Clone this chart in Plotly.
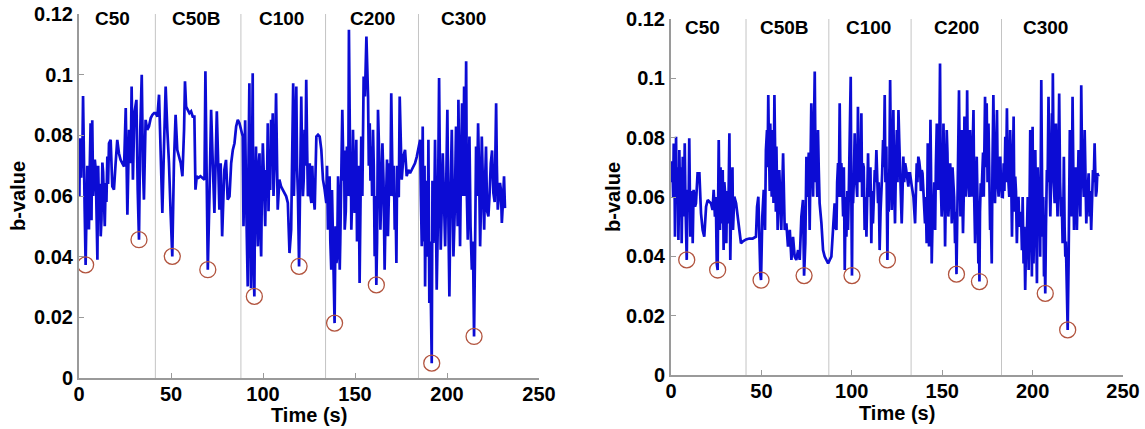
import plotly.graph_objects as go

# ---------------- data ----------------
time_left = [
    0, 0.5, 1.2, 1.8, 2.2, 2.7, 3.6, 4.5, 5.4, 6.3,
    6.8, 7.2, 8.2, 9.1, 10.0, 10.9, 11.8, 12.7, 13.6, 14.5,
    15.4, 16.3, 17.2, 18.1, 19.0, 19.9, 20.8, 21.7, 22.6, 23.5,
    24.5, 25.4, 26.3, 27.2, 28.1, 28.6, 29.3, 30.1, 31.2, 31.9,
    32.6, 33.3, 34.1, 34.8, 35.3, 36.2, 37.1, 38.0, 39.0, 39.9,
    40.8, 41.7, 42.6, 43.5, 44.4, 45.3, 46.2, 47.1, 48.0, 48.9,
    49.8, 50.7, 51.6, 52.5, 53.4, 54.3, 55.3, 56.2, 57.1, 57.6,
    58.2, 59.1, 60.0, 60.9, 61.8, 62.7, 63.3, 64.0, 65.0, 66.0,
    67.0, 68.2, 68.7, 69.4, 70.0, 70.9, 71.8, 72.7, 73.6, 74.9,
    75.6, 76.3, 77.0, 77.8, 78.5, 79.0, 79.9, 80.8, 81.8, 82.7,
    83.6, 84.5, 85.4, 86.3, 87.2, 88.1, 89.0, 89.9, 90.8, 91.7,
    92.6, 93.5, 94.4, 95.3, 96.2, 97.2, 98.1, 99.0, 99.9, 100.8,
    101.7, 102.6, 103.5, 104.4, 105.3, 106.2, 107.1, 108.0, 108.9, 109.8,
    110.7, 111.6, 112.6, 113.5, 114.4, 115.3, 115.8, 116.4, 117.2, 118.1,
    119.0, 119.6, 120.3, 120.8, 121.7, 122.6, 123.5, 124.4, 125.4, 126.3,
    127.2, 128.1, 129.0, 129.9, 130.8, 131.7, 132.6, 133.5, 134.4, 135.3,
    136.2, 137.1, 138.0, 138.9, 139.9, 140.8, 141.7, 142.4, 143.1, 143.8,
    144.4, 145.6, 146.1, 146.7, 147.5, 148.0, 148.9, 149.8, 150.7, 151.6,
    152.5, 153.4, 154.0, 154.7, 155.4, 156.2, 157.1, 158.0, 158.9, 159.8,
    160.7, 161.6, 162.5, 163.8, 164.9, 166.1, 167.0, 167.9, 168.8, 169.7,
    170.7, 171.6, 172.5, 173.4, 174.3, 175.4, 176.3, 177.2, 178.1, 179.0,
    179.9, 180.8, 181.7, 182.6, 183.6, 184.5, 185.4, 186.3, 186.8, 187.5,
    188.1, 189.0, 189.9, 190.4, 191.1, 191.7, 192.6, 193.5, 194.4, 195.7,
    196.6, 197.7, 199.0, 200.2, 201.3, 202.6, 203.5, 204.9, 205.5, 206.2,
    207.1, 208.2, 208.8, 209.3, 210.4, 211.3, 212.2, 213.5, 214.7, 215.8,
    216.9, 218.0, 218.9, 220.2, 221.2, 222.5, 223.8, 225.2, 226.7, 227.6,
    228.8, 229.8, 231.0, 231.5,
]
bvalue_left = [
    0.068, 0.079, 0.066, 0.072, 0.093, 0.062, 0.0373, 0.070, 0.049, 0.084,
    0.052, 0.085, 0.0654, 0.0686, 0.039, 0.0555, 0.0467, 0.071, 0.060, 0.0643,
    0.073, 0.0774, 0.0785, 0.0632, 0.0621, 0.0708, 0.0785, 0.0741, 0.0719, 0.0708,
    0.0697, 0.089, 0.0538, 0.0818, 0.0708, 0.0961, 0.0654, 0.0873, 0.0917, 0.0621,
    0.0456, 0.0818, 0.1000, 0.0686, 0.0588, 0.0851, 0.0818, 0.0829, 0.0857, 0.0868,
    0.0873, 0.0873, 0.0862, 0.0934, 0.0708, 0.0544, 0.0763, 0.0961, 0.0818, 0.0708,
    0.0544, 0.0401, 0.0708, 0.0868, 0.0752, 0.0730, 0.0708, 0.0665, 0.0818, 0.0978,
    0.0895, 0.0884, 0.0873, 0.0879, 0.0862, 0.0862, 0.0621, 0.0665, 0.0660, 0.0665,
    0.0660, 0.0654, 0.1011, 0.0599, 0.0357, 0.0599, 0.0884, 0.0708, 0.0544, 0.0879,
    0.0654, 0.0555, 0.0708, 0.0467, 0.0599, 0.0686, 0.0719, 0.0588, 0.0599, 0.0708,
    0.0752, 0.0774, 0.0829, 0.0851, 0.0840, 0.0818, 0.0796, 0.0708, 0.0599, 0.0302,
    0.0972, 0.0296, 0.1005, 0.0269, 0.0763, 0.0434, 0.0741, 0.0401, 0.0774, 0.0555,
    0.0686, 0.0840, 0.0730, 0.0851, 0.0873, 0.0686, 0.0939, 0.0555, 0.0654, 0.0632,
    0.0621, 0.0610, 0.0599, 0.0577, 0.0412, 0.0489, 0.0730, 0.0972, 0.0686, 0.0961,
    0.0599, 0.0368, 0.0654, 0.0928, 0.0599, 0.0818, 0.0983, 0.0599, 0.0708, 0.0577,
    0.0621, 0.0555, 0.0796, 0.0802, 0.0796, 0.0752, 0.0654, 0.0621, 0.0577, 0.0489,
    0.0665, 0.0357, 0.0489, 0.0181, 0.0379, 0.0665, 0.0357, 0.0599, 0.0884, 0.0650,
    0.0489, 0.0763, 0.0600, 0.1148, 0.0599, 0.0489, 0.0818, 0.0544, 0.0785, 0.0654,
    0.0313, 0.0796, 0.0600, 0.0994, 0.0928, 0.1126, 0.0928, 0.0840, 0.0763, 0.0818,
    0.0401, 0.0307, 0.0884, 0.0489, 0.0774, 0.0357, 0.0599, 0.0467, 0.0708, 0.0939,
    0.0599, 0.0489, 0.0379, 0.0599, 0.0928, 0.0654, 0.0730, 0.0752, 0.0665, 0.0686,
    0.0675, 0.0686, 0.0697, 0.0708, 0.0730, 0.0763, 0.0785, 0.0434, 0.0829, 0.0599,
    0.0302, 0.0544, 0.0785, 0.0247, 0.0300, 0.0049, 0.0445, 0.0785, 0.0291, 0.0989,
    0.0423, 0.0741, 0.0434, 0.0884, 0.0269, 0.0818, 0.0401, 0.0829, 0.0550, 0.0917,
    0.0434, 0.0906, 0.0600, 0.0961, 0.1044, 0.0456, 0.0796, 0.0357, 0.0137, 0.0763,
    0.0840, 0.0434, 0.0796, 0.0489, 0.0763, 0.0533, 0.0708, 0.0610, 0.0906, 0.0555,
    0.0643, 0.0511, 0.0665, 0.0560,
]
# extra short oscillations read from the densely filled stretches (left panel)
time_left_fill = [
    0.2, 0.8, 1.5, 3.1, 4.0, 4.9, 5.8, 7.7, 8.6,
    9.5, 10.4, 11.3, 12.2, 13.1, 14.0, 14.9, 15.8,
    89.4, 90.3, 91.2, 92.1, 93.0, 93.9, 94.8, 95.7, 96.7, 97.6,
    98.5, 99.4, 100.3, 101.2, 102.1, 103.0, 103.9, 104.8, 105.7, 106.6,
    116.8, 117.6, 118.5, 121.2, 122.1, 123.0, 124.0, 124.9, 125.8, 126.8,
    134.8, 135.7, 136.6, 137.5, 138.4, 139.4, 140.3, 141.2, 142.0, 144.1,
    145.0, 146.4, 147.2, 147.8, 148.5, 149.3, 150.2, 151.1, 152.0, 152.9,
    153.7, 157.5, 158.4, 159.3, 160.2, 161.1, 162.0, 163.1, 164.3, 165.5,
    166.5, 167.4, 168.3, 169.2, 170.2, 171.1, 172.0, 172.9, 173.8,
    185.8, 187.2, 187.8, 188.6, 189.5, 190.1, 190.8, 192.1, 193.0, 193.9,
    195.0, 196.2, 197.1, 198.3, 199.6, 200.8, 201.9, 203.0, 204.2, 205.2,
    205.8, 206.6, 207.6, 209.8, 210.8, 211.7, 212.8, 214.1, 215.2, 216.3,
    217.4, 218.4, 219.5, 220.7, 221.8, 223.1, 224.5, 225.9, 227.1, 228.2,
    229.3, 230.4,
]
bvalue_left_fill = [
    0.060, 0.070, 0.078, 0.055, 0.050, 0.060, 0.068, 0.060, 0.072,
    0.050, 0.070, 0.064, 0.052, 0.068, 0.050, 0.058, 0.064,
    0.050, 0.085, 0.045, 0.070, 0.052, 0.060, 0.040, 0.060, 0.055, 0.070,
    0.050, 0.062, 0.070, 0.050, 0.060, 0.055, 0.062, 0.075, 0.060, 0.075,
    0.060, 0.080, 0.070, 0.075, 0.065, 0.070, 0.075, 0.065, 0.060, 0.070,
    0.070, 0.060, 0.045, 0.062, 0.040, 0.050, 0.040, 0.060, 0.045, 0.075,
    0.055, 0.070, 0.080, 0.070, 0.060, 0.070, 0.060, 0.045, 0.070, 0.055,
    0.070, 0.070, 0.065, 0.060, 0.070, 0.060, 0.045, 0.075, 0.060, 0.065,
    0.050, 0.072, 0.055, 0.060, 0.072, 0.070, 0.060, 0.070, 0.060,
    0.060, 0.045, 0.070, 0.065, 0.040, 0.060, 0.045, 0.065, 0.050, 0.060,
    0.050, 0.065, 0.055, 0.060, 0.065, 0.050, 0.060, 0.065, 0.055, 0.070,
    0.050, 0.065, 0.070, 0.060, 0.060, 0.065, 0.050, 0.045, 0.040, 0.060,
    0.070, 0.055, 0.065, 0.065, 0.055, 0.060, 0.075, 0.058, 0.070, 0.060,
    0.062, 0.058,
]

time_right = [
    0, 0.9, 1.5, 2.2, 2.8, 3.3, 4.1, 4.6, 5.2, 5.9,
    6.5, 7.0, 7.6, 8.3, 8.7, 9.2, 10.1, 10.7, 11.4, 12.0,
    12.5, 13.3, 13.8, 14.7, 15.7, 16.6, 17.5, 18.4, 19.4, 20.3,
    21.2, 22.1, 23.0, 23.6, 24.3, 25.3, 25.8, 26.4, 27.1, 27.7,
    28.6, 29.1, 29.9, 30.6, 31.3, 32.3, 32.8, 33.6, 34.3, 35.0,
    36.0, 36.9, 37.8, 38.7, 39.6, 40.6, 41.5, 43.3, 45.2, 47.0,
    47.6, 48.3, 48.9, 49.4, 49.8, 50.5, 51.3, 52.0, 52.5, 53.1,
    53.8, 54.4, 54.9, 55.7, 56.2, 57.2, 57.7, 58.3, 59.0, 59.9,
    61.0, 62.0, 62.9, 63.8, 64.7, 65.7, 66.6, 67.5, 68.4, 69.3,
    70.3, 71.2, 72.1, 73.0, 73.6, 74.3, 74.9, 75.8, 76.7, 77.6,
    78.6, 79.5, 80.4, 81.3, 82.2, 83.2, 84.1, 85.0, 85.9, 86.9,
    87.8, 88.7, 89.6, 90.5, 91.5, 92.4, 93.3, 94.2, 95.2, 96.1,
    97.0, 97.9, 98.8, 99.4, 100.1, 100.7, 101.6, 102.5, 103.4, 104.4,
    105.3, 106.2, 107.1, 108.1, 109.0, 109.9, 110.8, 111.7, 112.7, 113.6,
    114.5, 115.4, 116.4, 117.3, 118.2, 119.1, 119.7, 120.4, 121.2, 122.1,
    123.0, 123.9, 124.9, 125.8, 126.7, 127.6, 128.5, 129.5, 130.4, 131.3,
    132.2, 133.2, 134.1, 135.0, 135.9, 136.8, 137.8, 138.7, 139.6, 140.5,
    141.4, 142.0, 142.7, 143.5, 144.2, 145.1, 146.1, 147.0, 147.9, 148.8,
    149.7, 150.7, 151.6, 152.5, 153.4, 154.4, 155.3, 156.2, 157.1, 157.9,
    158.6, 159.3, 160.1, 160.8, 161.5, 162.3, 163.0, 163.8, 164.5, 165.4,
    166.3, 167.3, 168.2, 169.1, 170.0, 170.6, 171.3, 172.2, 173.0, 173.7,
    174.6, 175.6, 176.5, 177.4, 178.3, 179.2, 180.3, 181.2, 182.1, 183.0,
    184.0, 184.9, 185.8, 186.7, 187.6, 188.6, 189.5, 190.4, 191.3, 192.2,
    193.2, 194.1, 195.0, 195.9, 196.9, 197.8, 198.7, 199.6, 200.0, 200.5,
    201.5, 202.4, 203.3, 204.2, 204.8, 205.5, 206.3, 207.0, 207.9, 208.8,
    209.8, 210.7, 211.2, 212.2, 212.9, 213.8, 214.7, 215.7, 216.6, 217.3,
    218.1, 218.8, 219.4, 219.9, 220.6, 221.4, 222.1, 222.9, 223.6, 224.5,
    225.4, 226.4, 226.9, 227.8, 228.8, 229.7, 230.6, 231.5, 232.4, 233.4,
    234.3, 235.0, 235.8, 236.5,
]
bvalue_right = [
    0.065, 0.0680, 0.0780, 0.0466, 0.0803, 0.0579, 0.0455, 0.0758, 0.0534, 0.0444,
    0.0736, 0.0534, 0.0781, 0.0421, 0.0388, 0.0624, 0.0798, 0.0466, 0.0601, 0.0444,
    0.0624, 0.0567, 0.0579, 0.0680, 0.0680, 0.0545, 0.0489, 0.0466, 0.0567, 0.0590,
    0.0584, 0.0579, 0.0556, 0.0624, 0.0534, 0.0376, 0.0354, 0.0792, 0.0489, 0.0511,
    0.0691, 0.0421, 0.0601, 0.0444, 0.0511, 0.0815, 0.0388, 0.0624, 0.0489, 0.0601,
    0.0579, 0.0534, 0.0489, 0.0444, 0.0450, 0.0455, 0.0457, 0.0460, 0.0460, 0.0466,
    0.0567, 0.0601, 0.0421, 0.0340, 0.0320, 0.0534, 0.0624, 0.0489, 0.0758, 0.0826,
    0.0944, 0.0691, 0.0848, 0.0601, 0.0826, 0.0944, 0.0691, 0.0770, 0.0489, 0.0691,
    0.0489, 0.0747, 0.0489, 0.0511, 0.0433, 0.0489, 0.0388, 0.0466, 0.0399, 0.0388,
    0.0421, 0.0388, 0.0534, 0.0590, 0.0335, 0.0444, 0.0736, 0.0691, 0.0489, 0.0916,
    0.0601, 0.1023, 0.0714, 0.0826, 0.0579, 0.0511, 0.0421, 0.0399, 0.0388, 0.0376,
    0.0388, 0.0399, 0.0489, 0.0579, 0.0489, 0.0714, 0.0916, 0.0714, 0.0534, 0.0354,
    0.0466, 0.0489, 0.0736, 0.1005, 0.0335, 0.0579, 0.0815, 0.0624, 0.0904, 0.0736,
    0.0882, 0.0714, 0.0489, 0.0466, 0.0747, 0.0657, 0.0444, 0.0511, 0.0691, 0.0758,
    0.0579, 0.0421, 0.0601, 0.0792, 0.0944, 0.0770, 0.0388, 0.0550, 0.0994, 0.0556,
    0.0893, 0.0511, 0.0826, 0.0893, 0.0714, 0.0511, 0.0736, 0.0714, 0.0680, 0.0635,
    0.0680, 0.0635, 0.0600, 0.0511, 0.0714, 0.0736, 0.0691, 0.0691, 0.0624, 0.0511,
    0.0444, 0.0781, 0.0433, 0.0860, 0.0376, 0.0534, 0.0489, 0.0848, 0.0624, 0.1050,
    0.0534, 0.0848, 0.0433, 0.0826, 0.0534, 0.0714, 0.0511, 0.0646, 0.0444, 0.0340,
    0.0657, 0.0960, 0.0534, 0.0826, 0.0478, 0.0871, 0.0601, 0.0960, 0.0669, 0.0826,
    0.0601, 0.0893, 0.0444, 0.0736, 0.0376, 0.0315, 0.0646, 0.0736, 0.0601, 0.0938,
    0.0916, 0.0848, 0.0489, 0.0376, 0.0944, 0.0579, 0.0893, 0.0601, 0.0736, 0.0601,
    0.0714, 0.0803, 0.0899, 0.0601, 0.0826, 0.0466, 0.0871, 0.0669, 0.0444, 0.0601,
    0.0511, 0.0421, 0.0376, 0.0287, 0.0489, 0.0354, 0.0826, 0.0332, 0.0837, 0.0376,
    0.0758, 0.0309, 0.0601, 0.0399, 0.0994, 0.0466, 0.0332, 0.0275, 0.0691, 0.0938,
    0.0534, 0.0882, 0.1017, 0.0579, 0.0848, 0.0534, 0.0949, 0.0534, 0.0444, 0.0736,
    0.0399, 0.0264, 0.0152, 0.0376, 0.0826, 0.0534, 0.0938, 0.0489, 0.0669, 0.0489,
    0.0758, 0.0534, 0.0977, 0.0624, 0.0826, 0.0511, 0.0646, 0.0534, 0.0489, 0.0691,
    0.0781, 0.0601, 0.0680, 0.0669,
]
# extra short oscillations read from the densely filled stretches (right panel)
time_right_fill = [
    0.4, 1.2, 1.9, 2.5, 3.0, 3.7, 4.4, 4.9, 5.6, 6.2,
    6.8, 7.3, 8.0, 9.7, 10.4, 11.1, 11.7, 12.3, 12.9, 24.8,
    26.1, 26.8, 27.4, 28.2, 28.9, 29.5, 30.3, 31.0, 31.8, 33.2,
    34.0, 53.4, 54.1, 54.6, 55.3, 56.0, 56.7, 57.5, 58.0, 58.7,
    59.4, 75.3, 76.2, 77.1, 78.1, 79.0, 80.0, 80.9, 81.7,
    90.9, 91.9, 92.8, 93.8, 94.7, 95.6, 96.6, 97.5, 98.3, 99.8,
    100.4, 101.1, 102.0, 103.0, 103.9, 104.8, 105.7, 106.6, 107.6, 108.5,
    109.4, 110.3, 111.2, 112.2, 113.1, 114.0, 114.9, 115.9, 116.8, 117.7,
    118.6, 120.0, 120.8, 121.6, 122.5, 123.4, 124.4, 125.3, 126.2, 127.1,
    128.0, 129.0, 129.9, 130.8, 131.7,
    135.4, 136.3, 137.3, 138.2, 139.1, 140.0, 140.9, 141.7, 142.3, 143.1,
    143.8, 144.6, 145.6, 146.5, 147.4, 148.3, 149.2, 150.2, 151.1, 152.0,
    152.9, 153.9, 154.8, 155.7, 156.6, 157.5, 158.2, 158.9, 159.7, 160.4,
    161.1, 161.9, 162.6, 163.4, 164.1, 164.9, 165.8, 166.8, 167.7, 168.6,
    169.5, 170.3, 170.9, 171.7, 172.6, 173.3, 174.1, 175.1, 176.0, 176.9,
    177.8, 178.7, 179.7, 180.7, 181.6, 182.5, 183.5, 184.4, 185.3, 186.2,
    187.1, 188.1, 189.0, 189.9, 190.8, 191.7, 192.7, 193.6, 194.5, 195.4,
    196.4, 197.3, 198.2, 199.2, 199.8, 200.2, 201.0, 201.9, 202.8, 203.7,
    204.5, 205.1, 205.9, 206.6, 207.4, 208.3, 209.3, 210.2, 210.9, 211.7,
    212.5, 213.3, 214.2, 215.2, 216.1, 217.0, 217.7, 218.4, 220.2, 221.0,
    221.7, 222.5, 223.2, 224.0, 225.0, 225.9, 226.6, 227.3, 228.3, 229.2,
    230.1, 231.0, 231.9, 232.9, 233.8, 234.6, 235.4,
]
bvalue_right_fill = [
    0.072, 0.060, 0.070, 0.062, 0.066, 0.070, 0.058, 0.065, 0.070, 0.058,
    0.066, 0.062, 0.058, 0.055, 0.060, 0.055, 0.062, 0.052, 0.060, 0.060,
    0.060, 0.058, 0.070, 0.060, 0.055, 0.065, 0.058, 0.062, 0.058, 0.055,
    0.070, 0.070, 0.080, 0.062, 0.075, 0.068, 0.058, 0.080, 0.055, 0.065,
    0.060, 0.060, 0.075, 0.070, 0.075, 0.080, 0.065, 0.060, 0.070,
    0.050, 0.065, 0.060, 0.060, 0.065, 0.070, 0.060, 0.062, 0.060, 0.055,
    0.060, 0.065, 0.070, 0.060, 0.065, 0.065, 0.060, 0.070, 0.060, 0.060,
    0.060, 0.070, 0.062, 0.058, 0.065, 0.068, 0.065, 0.055, 0.068, 0.070,
    0.065, 0.060, 0.070, 0.075, 0.070, 0.065, 0.070, 0.065, 0.080, 0.065,
    0.060, 0.065, 0.070, 0.066, 0.068,
    0.062, 0.065, 0.072, 0.062, 0.068, 0.058, 0.060, 0.055, 0.065, 0.055,
    0.070, 0.050, 0.065, 0.070, 0.065, 0.070, 0.065, 0.060, 0.070, 0.060,
    0.075, 0.060, 0.065, 0.070, 0.060, 0.055, 0.050, 0.070, 0.070, 0.065,
    0.062, 0.060, 0.075, 0.065, 0.075, 0.060, 0.065, 0.075, 0.060, 0.060,
    0.060, 0.050, 0.055, 0.060, 0.075, 0.075, 0.070, 0.065, 0.070, 0.055,
    0.070, 0.075, 0.070, 0.065, 0.070, 0.065, 0.060, 0.062, 0.065, 0.070,
    0.060, 0.070, 0.060, 0.055, 0.062, 0.055, 0.050, 0.055, 0.060, 0.050,
    0.045, 0.060, 0.050, 0.060, 0.050, 0.060, 0.060, 0.055, 0.070, 0.065,
    0.070, 0.075, 0.060, 0.045, 0.050, 0.065, 0.070, 0.065, 0.070, 0.065,
    0.070, 0.065, 0.070, 0.065, 0.060, 0.055, 0.050, 0.045, 0.050, 0.065,
    0.060, 0.070, 0.060, 0.070, 0.065, 0.070, 0.065, 0.075, 0.060, 0.070,
    0.058, 0.068, 0.062, 0.058, 0.065, 0.070, 0.062,
]

# circled local minima
minima_time_left = [3.6, 32.6, 50.7, 70.0, 95.3, 119.6, 138.9, 161.6, 191.7, 214.7]
minima_b_left = [0.0373, 0.0456, 0.0401, 0.0357, 0.0269, 0.0368, 0.0181, 0.0307, 0.0049, 0.0137]
minima_time_right = [8.7, 25.8, 49.8, 73.6, 100.1, 119.7, 157.9, 170.6, 207.0, 219.4]
minima_b_right = [0.0388, 0.0354, 0.0320, 0.0335, 0.0335, 0.0388, 0.0340, 0.0315, 0.0275, 0.0152]

# stage names and boundaries
stage_names = ["C50", "C50B", "C100", "C200", "C300"]
stage_label_time_left = [18, 63.6, 110, 159.5, 209]
stage_label_time_right = [17.4, 63, 109.5, 158, 207]
stage_bounds_left = [41.5, 88.0, 134.0, 184.5]
stage_bounds_right = [41.5, 87.3, 132.8, 182.8]

x_ticks = [0, 50, 100, 150, 200, 250]
y_ticks = [0, 0.02, 0.04, 0.06, 0.08, 0.1, 0.12]
y_tick_text = ["0", "0.02", "0.04", "0.06", "0.08", "0.1", "0.12"]

assert len(time_left) == len(bvalue_left)
assert len(time_right) == len(bvalue_right)
assert len(time_left_fill) == len(bvalue_left_fill)
assert len(time_right_fill) == len(bvalue_right_fill)


def merged(t_main, b_main, t_fill, b_fill):
    pts = sorted(zip(list(t_main) + list(t_fill), list(b_main) + list(b_fill)))
    return [p[0] for p in pts], [p[1] for p in pts]


series_left = merged(time_left, bvalue_left, time_left_fill, bvalue_left_fill)
series_right = merged(time_right, bvalue_right, time_right_fill, bvalue_right_fill)

# ---------------- figure ----------------
W, H = 1145, 429
FONT = "Arial, 'Liberation Sans', sans-serif"
LINE_BLUE = "rgb(12,12,212)"
CIRCLE = "#b2543e"

fig = go.Figure()

panels = [
    ("x", "y", series_left, minima_time_left, minima_b_left,
     stage_label_time_left, stage_bounds_left, 0.1184),
    ("x2", "y2", series_right, minima_time_right, minima_b_right,
     stage_label_time_right, stage_bounds_right, 0.1172),
]

for xa, ya, (t, b), mt, mb, lt, bounds, ylab in panels:
    for bx in bounds:
        fig.add_shape(type="line", xref=xa, yref=ya, x0=bx, x1=bx, y0=0, y1=0.12,
                      line=dict(color="#c4c4c4", width=1), layer="below")
    fig.add_trace(go.Scatter(x=t, y=b, mode="lines", xaxis=xa, yaxis=ya,
                             line=dict(color=LINE_BLUE, width=2.7), showlegend=False,
                             hoverinfo="skip"))
    fig.add_trace(go.Scatter(x=mt, y=mb, mode="markers", xaxis=xa, yaxis=ya,
                             marker=dict(symbol="circle-open", size=16,
                                         line=dict(color=CIRCLE, width=1.3), color=CIRCLE),
                             showlegend=False))
    for name, tx in zip(stage_names, lt):
        fig.add_annotation(x=tx, y=ylab, xref=xa, yref=ya, text="<b>%s</b>" % name,
                           showarrow=False, xanchor="center", yanchor="middle",
                           font=dict(family=FONT, size=19, color="black"))

axis_common = dict(
    showgrid=False, zeroline=False, showline=True, linecolor="#9a9a9a", linewidth=2,
    ticks="inside", ticklen=5, tickcolor="#9a9a9a", tickwidth=1, automargin=False,
    tickfont=dict(family=FONT, size=20, color="black", weight="bold"),
)

# pixel geometry
def xdom(l, r):
    return [l / W, r / W]

def ydom(bottom_px, top_px):
    return [(H - bottom_px) / H, (H - top_px) / H]

fig.update_layout(
    width=W, height=H,
    margin=dict(l=0, r=0, t=0, b=0, autoexpand=False),
    paper_bgcolor="white", plot_bgcolor="white",
    xaxis=dict(domain=xdom(79, 539), range=[0, 250], tickvals=x_ticks, anchor="y",
               ticklabelstandoff=-3, **axis_common),
    yaxis=dict(domain=ydom(378, 14), range=[0, 0.12], tickvals=y_ticks,
               ticktext=y_tick_text, anchor="x", **axis_common),
    xaxis2=dict(domain=xdom(671, 1123), range=[0, 250], tickvals=x_ticks, anchor="y2",
                ticklabelstandoff=-3, **axis_common),
    yaxis2=dict(domain=ydom(375, 19), range=[0, 0.12], tickvals=y_ticks,
                ticktext=y_tick_text, anchor="x2", **axis_common),
)

# axis titles
for cx, cy in [(309, 415), (897, 413)]:
    fig.add_annotation(x=cx / W, y=1 - cy / H, xref="paper", yref="paper",
                       text="<b>Time (s)</b>", showarrow=False,
                       xanchor="center", yanchor="middle",
                       font=dict(family=FONT, size=20, color="black"))
for cx, cy in [(18, 196), (613, 197)]:
    fig.add_annotation(x=cx / W, y=1 - cy / H, xref="paper", yref="paper",
                       text="<b>b-value</b>", showarrow=False, textangle=-90,
                       xanchor="center", yanchor="middle",
                       font=dict(family=FONT, size=20, color="black"))

fig.write_html("out.html", config={"displayModeBar": False},
               post_script="document.body.style.margin='0';")
